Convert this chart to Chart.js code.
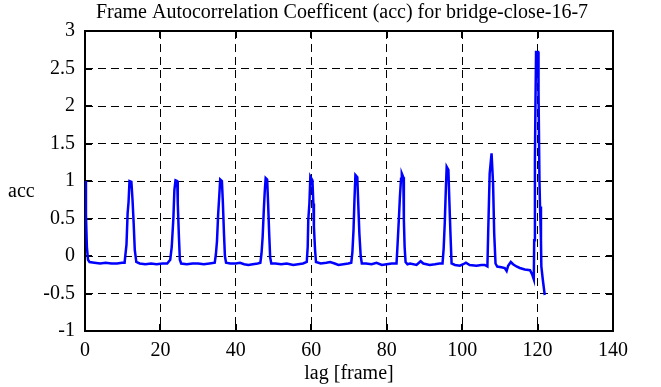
<!DOCTYPE html>
<html>
<head>
<meta charset="utf-8">
<title>Frame Autocorrelation Coefficent (acc) for bridge-close-16-7</title>
<script src="https://cdn.jsdelivr.net/npm/chart.js@4/dist/chart.umd.min.js"></script>
<style>
  html, body { margin: 0; padding: 0; background: #fff; }
  #chart { display: block; }
</style>
</head>
<body>
<canvas id="chart" width="661" height="387"></canvas>
<script>
// lag positions [frame] and acc values
const lags = [
  0, 0.25, 0.5, 0.8, 1.2, 2.5, 4.0, 5.5, 7.0, 8.5, 9.8, 10.5,
  10.7, 11.0, 11.3, 11.55, 11.8, 12.3, 12.6, 12.9, 13.2, 13.6,
  14.5, 16.0, 17.5, 19.0, 20.5, 21.8, 22.6,
  23.0, 23.45, 23.7, 24.0, 24.45, 24.6, 24.9, 25.15, 25.5,
  27.0, 28.5, 30.0, 31.5, 33.0, 34.4,
  34.7, 35.0, 35.3, 35.6, 35.85, 36.3, 36.55, 36.85, 37.1, 37.4,
  38.5, 40.0, 41.1, 42.2, 43.3, 44.5, 45.8, 46.5,
  46.8, 47.1, 47.4, 47.65, 47.9, 48.3, 48.55, 48.85, 49.1, 49.4,
  50.5, 52.0, 53.5, 55.2, 56.5, 57.8, 58.8,
  59.05, 59.2, 59.5, 59.75, 60.3, 60.55, 60.7, 61.0, 61.25,
  62.5, 64.0, 65.0, 66.2, 67.2, 68.5, 69.8, 70.6,
  70.9, 71.2, 71.45, 71.7, 72.2, 72.45, 72.75, 73.1, 73.4,
  74.5, 76.0, 77.3, 78.7, 80.0, 81.3, 82.6,
  82.8, 83.25, 83.5, 83.8, 84.0, 84.4, 84.55, 84.75, 85.0,
  85.5, 86.2, 87.9, 89.0, 89.7, 91.4, 92.8, 94.0, 94.8,
  95.1, 95.4, 95.65, 95.9, 96.35, 96.6, 96.9, 97.2,
  98.1, 99.4, 100.3, 101.0, 102.0, 103.8, 105.1, 106.0, 106.7,
  106.9, 107.3, 107.8, 108.2, 108.5, 108.85, 109.3,
  110.4, 111.3, 111.8, 112.2, 112.9, 113.5, 114.4, 115.3, 116.6, 118.0, 118.6, 119.0,
  119.1, 119.3, 119.45, 119.6, 120.15, 120.25, 120.5, 120.65, 120.9, 121.0, 121.4, 121.9
];
const acc = [
  1.0, 0.55, 0.12, -0.05, -0.08, -0.09, -0.1, -0.09, -0.1, -0.1, -0.09, -0.09,
  0.01, 0.15, 0.57, 0.72, 1.0, 0.99, 0.75, 0.44, 0.08, -0.08,
  -0.1, -0.11, -0.1, -0.11, -0.1, -0.1, -0.05,
  0.12, 0.52, 0.88, 1.01, 1.0, 0.7, 0.26, -0.05, -0.1,
  -0.11, -0.1, -0.1, -0.11, -0.1, -0.09,
  0.02, 0.2, 0.55, 0.8, 1.02, 1.0, 0.72, 0.3, 0.0, -0.09,
  -0.1, -0.1, -0.09, -0.11, -0.12, -0.11, -0.1, -0.09,
  0.03, 0.25, 0.6, 0.85, 1.04, 1.02, 0.7, 0.28, -0.02, -0.1,
  -0.1, -0.11, -0.1, -0.12, -0.11, -0.1, -0.08,
  0.12, 0.48, 0.7, 1.06, 1.01, 0.7, 0.39, 0.08, -0.08,
  -0.1, -0.09, -0.08, -0.1, -0.12, -0.11, -0.1, -0.09,
  0.05, 0.35, 0.75, 1.08, 1.05, 0.7, 0.3, 0.0, -0.1,
  -0.1, -0.11, -0.09, -0.12, -0.11, -0.1, -0.1,
  0.08, 0.52, 0.79, 1.03, 1.1, 1.05, 0.48, 0.12, -0.08,
  -0.11, -0.1, -0.12, -0.07, -0.1, -0.12, -0.11, -0.1, -0.1,
  0.1, 0.45, 0.85, 1.19, 1.15, 0.75, 0.3, -0.1,
  -0.12, -0.13, -0.11, -0.09, -0.12, -0.13, -0.12, -0.12, -0.14,
  0.3, 1.1, 1.37, 0.97, 0.3, -0.1, -0.14,
  -0.15, -0.16, -0.2, -0.13, -0.08, -0.11, -0.14, -0.16, -0.18, -0.19, -0.25, -0.31,
  0.21, 1.28, 2.08, 2.72, 2.72, 2.2, 1.01, 0.66, 0.21, -0.14, -0.32, -0.52
];
const xTickLabels = ['0', '20', '40', '60', '80', '100', '120', '140'];
const yTickLabels = ['-1', '-0.5', '0', '0.5', '1', '1.5', '2', '2.5', '3'];

const titleText = 'Frame Autocorrelation Coefficent (acc) for bridge-close-16-7';
const serif = '"Liberation Serif", "DejaVu Serif", serif';

// gnuplot-like frame: solid box with inward ticks on all four sides
const framePlugin = {
  id: 'frame',
  beforeDatasetsDraw(chart) {
    const { ctx, chartArea: a, scales: { x, y } } = chart;
    const tl = 7;
    ctx.save();
    ctx.strokeStyle = '#000';
    ctx.lineWidth = 2;
    ctx.strokeRect(a.left, a.top, a.right - a.left, a.bottom - a.top);
    ctx.beginPath();
    x.ticks.forEach(function(t) {
      const px = Math.round(x.getPixelForValue(t.value));
      ctx.moveTo(px, a.bottom); ctx.lineTo(px, a.bottom - tl);
      ctx.moveTo(px, a.top); ctx.lineTo(px, a.top + tl);
    });
    y.ticks.forEach(function(t) {
      const py = Math.round(y.getPixelForValue(t.value));
      ctx.moveTo(a.left, py); ctx.lineTo(a.left + tl, py);
      ctx.moveTo(a.right, py); ctx.lineTo(a.right - tl, py);
    });
    ctx.stroke();
    ctx.restore();
  },
  afterDraw(chart) {
    const ctx = chart.ctx;
    ctx.save();
    ctx.fillStyle = '#000';
    ctx.font = '20px ' + serif;
    ctx.textBaseline = 'alphabetic';
    ctx.textAlign = 'center';
    ctx.fillText(titleText, 342, 18);
    ctx.textAlign = 'left';
    ctx.fillText('acc', 8, 197);
    ctx.restore();
  }
};

const points = lags.map(function(l, i) { return { x: l, y: acc[i] }; });

new Chart(document.getElementById('chart'), {
  type: 'line',
  data: {
    datasets: [{
      data: points,
      borderColor: '#0000ff',
      borderWidth: 2.5,
      pointRadius: 0,
      tension: 0,
      fill: false
    }]
  },
  options: {
    responsive: false,
    devicePixelRatio: 1,
    animation: false,
    layout: { padding: { top: 31, right: 48, bottom: 0, left: 0 } },
    plugins: {
      legend: { display: false },
      tooltip: { enabled: false },
      title: { display: false }
    },
    scales: {
      x: {
        type: 'linear',
        min: 0,
        max: 140,
        afterFit: function(s) { s.height = 56; },
        ticks: {
          stepSize: 20,
          color: '#000',
          padding: 8,
          maxRotation: 0,
          font: { family: serif, size: 20 },
          callback: function(v, i) { return xTickLabels[i]; }
        },
        grid: { color: '#000', lineWidth: 1, drawTicks: false },
        border: { display: false, dash: [8, 5] },
        title: {
          display: true,
          text: 'lag [frame]',
          color: '#000',
          font: { family: serif, size: 20 },
          padding: { top: 0, bottom: 1 }
        }
      },
      y: {
        type: 'linear',
        min: -1,
        max: 3,
        afterFit: function(s) { s.width = 85; },
        ticks: {
          stepSize: 0.5,
          color: '#000',
          padding: 10,
          font: { family: serif, size: 20 },
          callback: function(v, i) { return yTickLabels[i]; }
        },
        grid: { color: '#000', lineWidth: 1, drawTicks: false },
        border: { display: false, dash: [8, 5] }
      }
    }
  },
  plugins: [framePlugin]
});
</script>
</body>
</html>
